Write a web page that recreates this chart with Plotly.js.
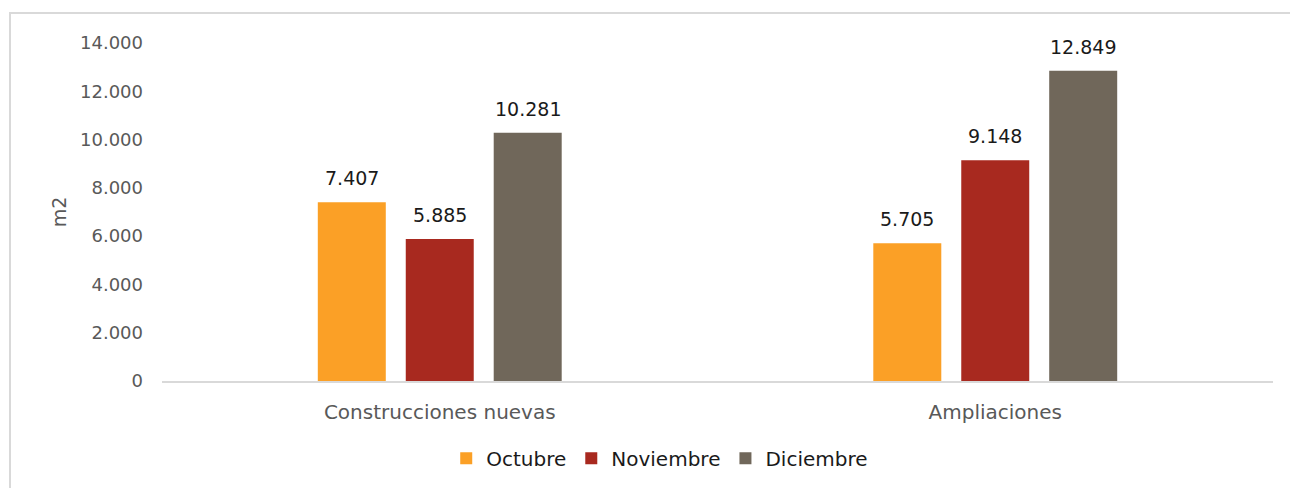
<!DOCTYPE html>
<html><head><meta charset="utf-8">
<script src="https://cdn.plot.ly/plotly-3.0.1.min.js"></script>
<style>
html,body{margin:0;padding:0;background:#fff;overflow:hidden}
#frame{position:absolute;left:9px;top:12px;width:1300px;height:500px;border:2px solid #d9d9d9;box-sizing:border-box}
#chart{position:absolute;left:0;top:0;width:1290px;height:488px}
</style></head>
<body>
<div id="frame"></div>
<div id="chart"></div>
<script>
const categories = ["Construcciones nuevas", "Ampliaciones"];
const seriesNames = ["Octubre", "Noviembre", "Diciembre"];
const octubre = [7407, 5705];
const noviembre = [5885, 9148];
const diciembre = [10281, 12849];
const colors = ["#FBA026", "#A8291F", "#70675A"];
const allValues = [octubre, noviembre, diciembre];

const font = "'DejaVu Sans', sans-serif";
const traces = allValues.map((vals, i) => ({
  type: "bar",
  name: seriesNames[i],
  x: categories,
  y: vals,
  marker: {color: colors[i]},
  hoverinfo: "none"
}));

// value labels placed at each bar's data value, shifted to the bar's slot in the group
const slotPx = 88;
const annotations = [];
allValues.forEach((vals, i) => {
  vals.forEach((v, j) => {
    annotations.push({
      xref: "x", yref: "y", x: categories[j], y: v,
      text: v.toLocaleString("de-DE"),
      showarrow: false, xanchor: "center", yanchor: "bottom",
      xshift: (i - 1) * slotPx, yshift: 11,
      font: {family: font, size: 19, color: "#1a1a1a"}
    });
  });
});

const layout = {
  width: 1290, height: 488,
  margin: {l: 162, r: 17, t: 43, b: 106},
  paper_bgcolor: "rgba(0,0,0,0)",
  plot_bgcolor: "rgba(0,0,0,0)",
  separators: ",.",
  barmode: "group",
  bargap: 0.525,
  bargroupgap: 0.227,
  font: {family: font},
  showlegend: true,
  annotations: annotations,
  legend: {
    orientation: "h", x: 0.448, xanchor: "center", y: -0.225, yanchor: "middle",
    font: {family: font, size: 20, color: "#1a1a1a"}, itemwidth: 30, traceorder: "normal"
  },
  xaxis: {
    showline: true, linecolor: "#d9d9d9", linewidth: 2,
    ticks: "", ticklabelstandoff: 12,
    tickfont: {family: font, size: 20, color: "#595959"},
    showgrid: false, zeroline: false
  },
  yaxis: {
    range: [0, 14000], dtick: 2000, tickformat: ",d",
    showgrid: false, zeroline: false, showline: false,
    ticks: "", ticklabelstandoff: 18,
    tickfont: {family: font, size: 18, color: "#595959"},
    title: {text: "m2", font: {family: font, size: 19, color: "#595959"}, standoff: 8}
  }
};
Plotly.newPlot("chart", traces, layout, {staticPlot: true});
</script>
</body></html>
